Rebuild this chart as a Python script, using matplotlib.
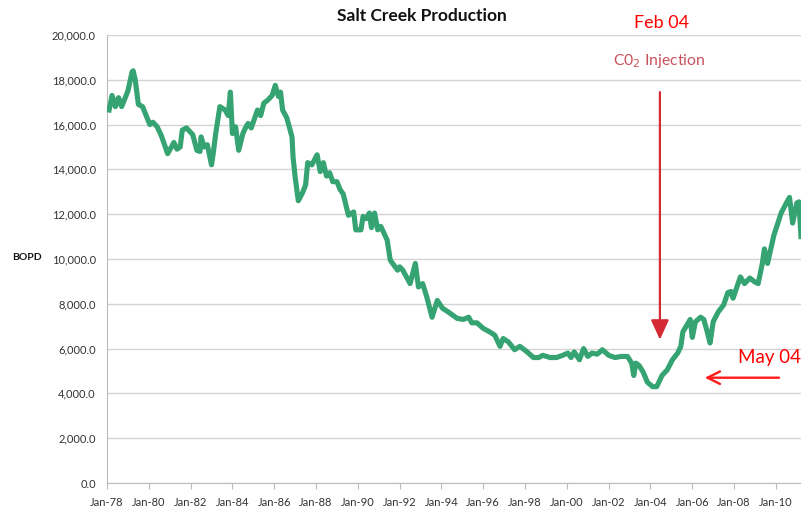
import matplotlib
matplotlib.use("Agg")
from matplotlib import pyplot as plt
from matplotlib.ticker import FuncFormatter

plt.rcParams['font.family'] = ['Lato', 'DejaVu Sans']

# decimal years / barrels of oil per day
years = [1978.1, 1978.24, 1978.4, 1978.55, 1978.7, 1979.0, 1979.2, 1979.25, 1979.35, 1979.5,
         1979.7, 1979.9, 1980.05, 1980.2, 1980.4, 1980.6, 1980.9, 1981.2, 1981.35, 1981.5,
         1981.6, 1981.8, 1982.1, 1982.3, 1982.45, 1982.5, 1982.65, 1982.8, 1983.0, 1983.1,
         1983.2, 1983.4, 1983.65, 1983.8, 1983.9, 1984.0, 1984.15, 1984.3, 1984.5, 1984.65,
         1984.75, 1984.9, 1985.2, 1985.35, 1985.5, 1985.7, 1985.9, 1986.05, 1986.2, 1986.3,
         1986.4, 1986.6, 1986.85, 1986.9, 1987.0, 1987.15, 1987.35, 1987.5, 1987.6, 1987.8,
         1988.05, 1988.2, 1988.35, 1988.5, 1988.65, 1988.8, 1989.0, 1989.15, 1989.3, 1989.55,
         1989.8, 1989.9, 1990.15, 1990.25, 1990.4, 1990.55, 1990.65, 1990.8, 1990.95, 1991.1,
         1991.4, 1991.55, 1991.9, 1992.0, 1992.15, 1992.5, 1992.75, 1992.9, 1993.1, 1993.3,
         1993.55, 1993.8, 1994.05, 1994.3, 1994.75, 1995.05, 1995.3, 1995.45, 1995.7, 1996.0,
         1996.3, 1996.55, 1996.8, 1996.95, 1997.2, 1997.5, 1997.75, 1998.1, 1998.4, 1998.65,
         1998.85, 1999.2, 1999.5, 1999.8, 2000.05, 2000.2, 2000.35, 2000.6, 2000.8, 2001.0,
         2001.2, 2001.45, 2001.7, 2002.0, 2002.3, 2002.6, 2002.9, 2003.1, 2003.2, 2003.3,
         2003.45, 2003.65, 2003.85, 2004.1, 2004.3, 2004.55, 2004.8, 2005.05, 2005.3, 2005.45,
         2005.55, 2005.9, 2006.0, 2006.15, 2006.4, 2006.55, 2006.7, 2006.85, 2007.0, 2007.25,
         2007.5, 2007.7, 2007.85, 2007.95, 2008.3, 2008.5, 2008.75, 2008.95, 2009.15, 2009.35,
         2009.45, 2009.6, 2009.9, 2010.25, 2010.5, 2010.65, 2010.8, 2011.0, 2011.1, 2011.2]
bopd = [16650, 17300, 16800, 17200, 16800, 17500, 18350, 18400, 18000, 16900,
        16800, 16350, 16000, 16100, 15900, 15500, 14700, 15200, 14900, 15000,
        15750, 15850, 15550, 14850, 14800, 15450, 15000, 15100, 14200, 14850,
        15600, 16800, 16650, 16400, 17450, 15600, 15900, 14850, 15600, 15900,
        16050, 15850, 16650, 16400, 16950, 17100, 17300, 17750, 17250, 17450,
        16650, 16300, 15450, 14550, 13650, 12600, 12950, 13300, 14300, 14200,
        14650, 13900, 14300, 13700, 13850, 13450, 13450, 13100, 12900, 11950,
        12100, 11300, 11300, 11900, 11800, 12050, 11400, 12050, 11300, 11450,
        10850, 9950, 9500, 9650, 9500, 8900, 9800, 8750, 8900, 8300,
        7400, 8150, 7800, 7650, 7350, 7300, 7400, 7150, 7150, 6900,
        6750, 6600, 6100, 6450, 6300, 5950, 6100, 5850, 5600, 5600,
        5700, 5600, 5600, 5700, 5800, 5600, 5850, 5500, 6000, 5650,
        5800, 5750, 5950, 5700, 5600, 5650, 5650, 5350, 4800, 5350,
        5250, 4950, 4500, 4300, 4300, 4800, 5050, 5500, 5800, 6100,
        6750, 7300, 6500, 7200, 7400, 7300, 6800, 6250, 7200, 7650,
        7950, 8500, 8550, 8250, 9200, 8900, 9150, 9000, 8900, 9800,
        10450, 9800, 11050, 12050, 12500, 12750, 11600, 12500, 12550, 11000]

tick_years = list(range(1978, 2012, 2))
tick_labels = ["Jan-%02d" % (y % 100) for y in tick_years]

injection_year = 2004.45
line_green = "#36a372"

fig = plt.figure(figsize=(8.01, 5.08), dpi=100)
ax = fig.add_axes([0.1336, 0.0492, 0.8664, 0.882])

ax.plot(years, bopd, color=line_green, linewidth=3.7, solid_joinstyle="round", zorder=3)

ax.set_xlim(1978, 2011.2)
ax.set_ylim(0, 20000)
ax.set_yticks(range(0, 20001, 2000))
ax.yaxis.set_major_formatter(FuncFormatter(lambda v, p: "{:,.1f}".format(v)))
ax.set_xticks(tick_years)
ax.set_xticklabels(tick_labels)
ax.tick_params(axis="y", length=0, labelsize=8, colors="#333333", pad=8)
ax.tick_params(axis="x", length=4, width=0.8, color="#bbbbbb", labelsize=8,
               labelcolor="#333333", pad=6)
ax.grid(axis="y", color="#d4d4d4", linewidth=1)
ax.set_axisbelow(True)
for side in ["top", "right"]:
    ax.spines[side].set_visible(False)
for side in ["left", "bottom"]:
    ax.spines[side].set_color("#bbbbbb")

# CO2 injection arrow and the May 04 pointer
ax.annotate("", xy=(injection_year, 6400), xytext=(injection_year, 17450),
            arrowprops=dict(arrowstyle="-|>,head_length=1.2,head_width=0.55",
                            color="#d42a35", linewidth=1.6, shrinkA=0, shrinkB=0),
            zorder=4)
ax.annotate("", xy=(2006.6, 4700), xytext=(2010.15, 4700),
            arrowprops=dict(arrowstyle="->,head_length=0.9,head_width=0.45",
                            color="#ff1a1a", linewidth=1.7, shrinkA=0, shrinkB=0),
            zorder=4)

fig.text(422 / 801, 1 - 16 / 508, "Salt Creek Production", ha="center", va="center",
         fontsize=12.5, fontweight="bold", color="#111111")
fig.text(27 / 801, 1 - 258 / 508, "BOPD", ha="center", va="center",
         fontsize=7.5, fontweight="bold", color="#111111")
fig.text(662 / 801, 1 - 23 / 508, "Feb 04", ha="center", va="center",
         fontsize=13, color="#ff0000")
fig.text(659 / 801, 1 - 61 / 508, "C0$_2$ Injection", ha="center", va="center",
         fontsize=11.3, color="#c8505a")
fig.text(738 / 801, 1 - 357 / 508, "May 04", ha="left", va="center",
         fontsize=13.5, color="#ff0000")

fig.savefig("out.png", dpi=100)
